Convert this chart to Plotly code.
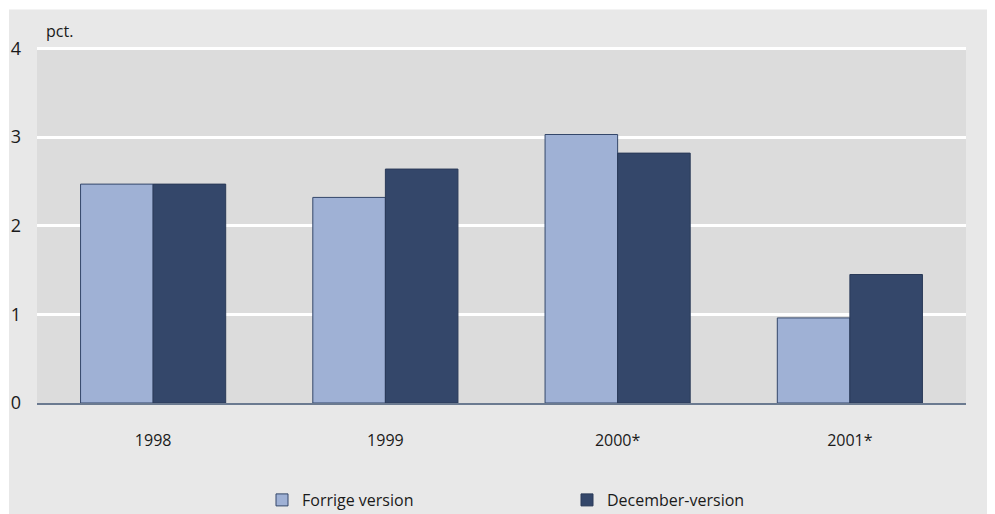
import plotly.graph_objects as go

categories = ["1998", "1999", "2000*", "2001*"]
forrige = [2.47, 2.32, 3.03, 0.96]
december = [2.47, 2.64, 2.82, 1.45]
series_names = ["Forrige version", "December-version"]
y_ticks = [0, 1, 2, 3, 4]

# page has an 8px body margin; compensate (all page coords below minus OFF)
OFF = 8
W, H = 995 - OFF, 514 - OFF
U = (403 - 49) / 4          # px per unit
YTOP = 4.04
ph = YTOP * U
L = 37 - OFF
R = W - (966 - OFF)
B = H - (403 - OFF)
T = H - B - ph
pw = W - L - R

font = "Open Sans, Noto Sans, sans-serif"

fig = go.Figure()
fig.add_trace(go.Bar(x=categories, y=forrige, name=series_names[0],
                     marker=dict(color="#9fb1d5", line=dict(color="#34476a", width=1))))
fig.add_trace(go.Bar(x=categories, y=december, name=series_names[1],
                     marker=dict(color="#34476a", line=dict(color="#2a3a58", width=1))))

fig.update_layout(
    width=W, height=H,
    margin=dict(l=L, r=R, t=T, b=B, autoexpand=False),
    paper_bgcolor="white",
    plot_bgcolor="rgba(0,0,0,0)",
    barmode="group", bargap=0.375, bargroupgap=0,
    font=dict(family=font, size=16, color="#1a1a1a"),
    showlegend=True,
    legend=dict(orientation="h", xref="container", yref="container",
                x=(262 - OFF) / W, xanchor="left",
                y=(514 - 500) / H, yanchor="middle",
                entrywidth=260, entrywidthmode="pixels", bgcolor="rgba(0,0,0,0)",
                font=dict(size=16), itemclick=False),
    xaxis=dict(showgrid=False, ticks="", ticklabelstandoff=22, showline=True, automargin=False,
               linecolor="#6b7a90", linewidth=2, tickfont=dict(size=16)),
    yaxis=dict(range=[0, YTOP], tickvals=y_ticks, showgrid=True, gridcolor="white", gridwidth=3,
               zeroline=False, ticks="", ticklabelstandoff=15, showline=False, automargin=False,
               tickfont=dict(size=18)),
    shapes=[
        dict(type="rect", xref="paper", yref="paper", layer="below",
             x0=(9 - 37) / pw, x1=(991 - 37) / pw,
             y0=(403 - 514) / ph, y1=(403 - 10) / ph,
             fillcolor="#e8e8e8", line=dict(width=0)),
        dict(type="rect", xref="paper", yref="y", layer="below",
             x0=0, x1=1, y0=0, y1=4,
             fillcolor="#dcdcdc", line=dict(width=0)),
    ],
    annotations=[dict(text="pct.", xref="paper", yref="paper", x=(44 - 37) / pw, y=(403 - 31) / ph,
                      xanchor="left", yanchor="middle", showarrow=False, font=dict(size=16))],
)

fig.write_html("out.html")
